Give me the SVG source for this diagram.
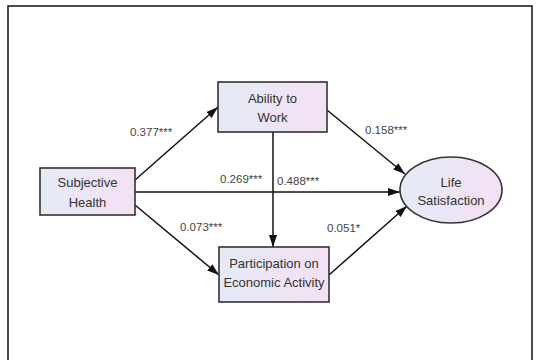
<svg xmlns="http://www.w3.org/2000/svg" width="540" height="360" viewBox="0 0 540 360">
<defs>
<linearGradient id="g" x1="0" y1="0" x2="1" y2="0">
<stop offset="0" stop-color="#e4eaf6"/>
<stop offset="1" stop-color="#f4e0f4"/>
</linearGradient>
<marker id="ah" viewBox="0 0 12 8" refX="12" refY="4" markerWidth="12" markerHeight="8" markerUnits="userSpaceOnUse" orient="auto">
<path d="M0,0 L12,4 L0,8 Z" fill="#111"/>
</marker>
</defs>
<style>
.node{fill:url(#g);stroke:#333;stroke-width:1.6}
.t{font-family:"Liberation Sans",Arial,sans-serif;font-size:13px;fill:#333;text-anchor:middle}
.l{font-family:"Liberation Sans",Arial,sans-serif;font-size:11.5px;fill:#444}
.e{stroke:#111;stroke-width:1.5;fill:none;marker-end:url(#ah)}
</style>
<rect x="0" y="0" width="540" height="360" fill="#fff"/>
<rect x="8" y="6" width="524" height="370" fill="none" stroke="#111" stroke-width="1.5"/>
<g id="connectors">
<line class="e" x1="135" y1="180" x2="218" y2="107"/>
<line class="e" x1="135" y1="192" x2="400" y2="192"/>
<line class="e" x1="135" y1="205" x2="219" y2="275"/>
<line class="e" x1="273" y1="132" x2="273" y2="247"/>
<line class="e" x1="327" y1="110" x2="405" y2="174"/>
<line class="e" x1="329" y1="275" x2="407" y2="206"/>
</g>
<g id="labels">
<text class="l" x="130" y="136">0.377***</text>
<text class="l" x="220" y="183">0.269***</text>
<text class="l" x="277" y="185">0.488***</text>
<text class="l" x="365" y="134">0.158***</text>
<text class="l" x="180" y="231">0.073***</text>
<text class="l" x="327" y="232">0.051*</text>
</g>
<g id="subjective-health">
<rect class="node" x="40" y="168" width="95" height="47"/>
<text class="t" x="87.5" y="187">Subjective</text>
<text class="t" x="87.5" y="207">Health</text>
</g>
<g id="ability-to-work">
<rect class="node" x="218" y="82" width="109" height="50"/>
<text class="t" x="272.5" y="103">Ability to</text>
<text class="t" x="272.5" y="122">Work</text>
</g>
<g id="participation">
<rect class="node" x="219" y="247" width="110" height="55"/>
<text class="t" x="274" y="268">Participation on</text>
<text class="t" x="274" y="287">Economic Activity</text>
</g>
<g id="life-satisfaction">
<ellipse class="node" cx="451" cy="190" rx="51" ry="33"/>
<text class="t" x="451" y="187">Life</text>
<text class="t" x="451" y="205">Satisfaction</text>
</g>
</svg>
